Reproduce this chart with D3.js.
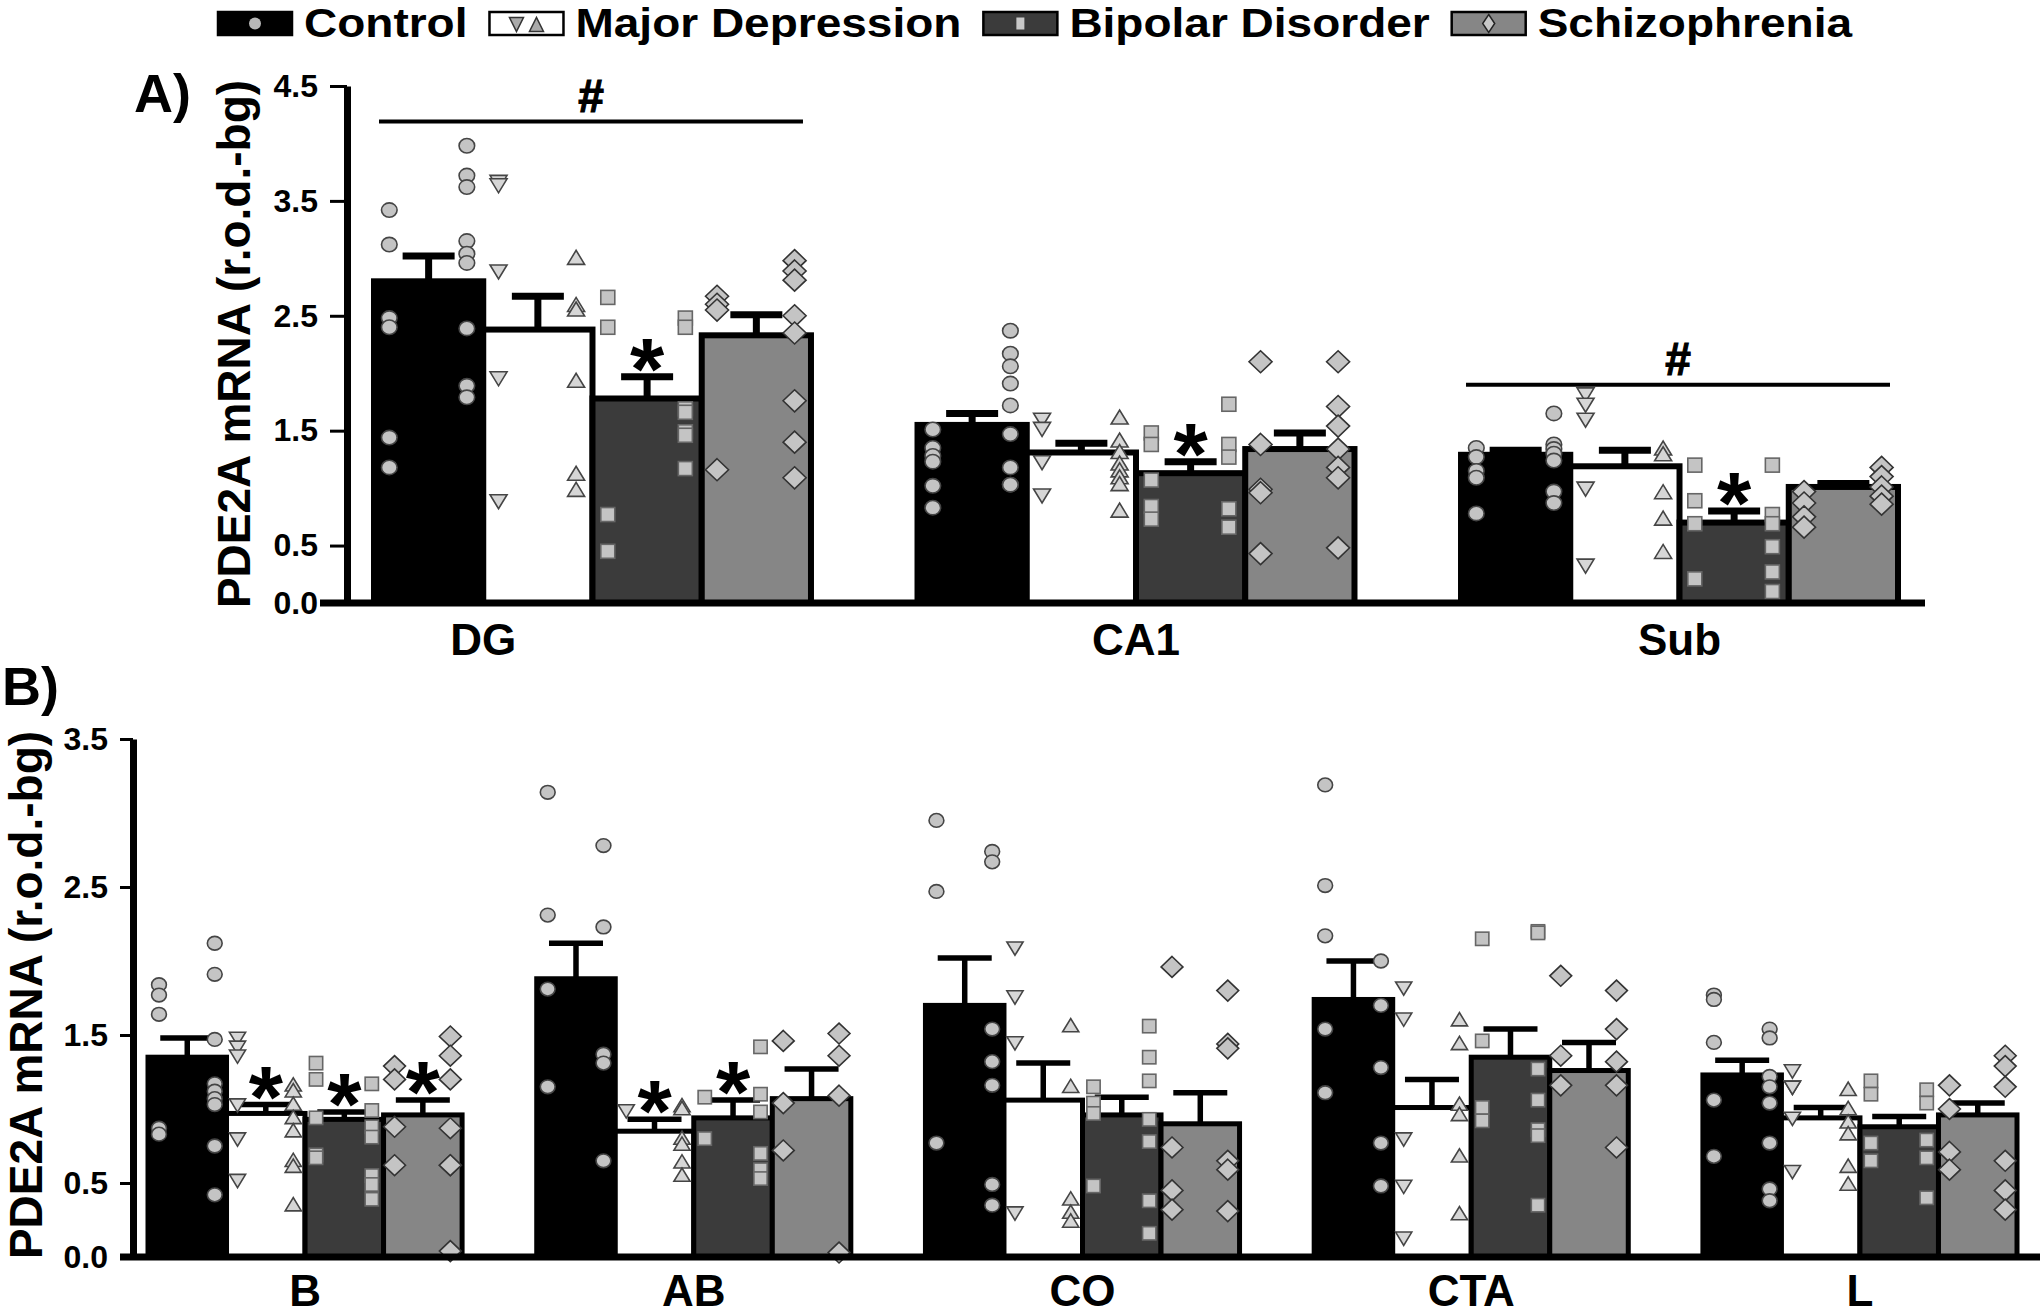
<!DOCTYPE html>
<html><head><meta charset="utf-8">
<script src="https://cdn.jsdelivr.net/npm/d3@7"></script>
<style>
html,body{margin:0;padding:0;background:#fff;}
svg{display:block;}
text{font-family:"Liberation Sans",Arial,Helvetica,sans-serif;font-weight:bold;fill:#000;}
</style></head><body>
<svg id="chart" width="2040" height="1314"></svg>
<script>
// ---------- data ----------
const diagnoses = ["Control", "Major Depression", "Bipolar Disorder", "Schizophrenia"];
const regionsA = ["DG", "CA1", "Sub"];
const regionsB = ["B", "AB", "CO", "CTA", "L"];
const ticksA = [0, 0.5, 1.5, 2.5, 3.5, 4.5];
const ticksB = [0, 0.5, 1.5, 2.5, 3.5];
const yTitle = "PDE2A mRNA (r.o.d.-bg)";

// means (rows = regions, cols = diagnoses)
const meansA = [
  [2.80, 2.38, 1.78, 2.33],
  [1.55, 1.31, 1.13, 1.34],
  [1.29, 1.19, 0.70, 1.01]
];
const semA = [
  [0.22, 0.29, 0.19, 0.18],
  [0.10, 0.08, 0.10, 0.14],
  [0.04, 0.14, 0.10, 0.03]
];
const meansB = [
  [1.35, 0.97, 0.93, 0.96],
  [1.88, 0.85, 0.94, 1.07],
  [1.70, 1.06, 0.96, 0.90],
  [1.74, 1.01, 1.35, 1.26],
  [1.23, 0.94, 0.88, 0.96]
];
const semB = [
  [0.13, 0.06, 0.05, 0.10],
  [0.24, 0.08, 0.12, 0.20],
  [0.32, 0.25, 0.12, 0.21],
  [0.26, 0.19, 0.19, 0.19],
  [0.10, 0.07, 0.07, 0.08]
];

// individual values, left column and right column of each bar
const ptsLeftA = [
  [[3.42, 3.12, 2.48, 2.40, 1.44, 1.18], [3.67, 3.64, 2.89, 1.96, 0.89], [2.66, 2.40, 0.77, 0.45], [2.67, 2.60, 2.55, 1.16]],
  [[1.51, 1.35, 1.28, 1.23, 1.02, 0.83], [1.60, 1.52, 1.23, 0.94], [1.48, 1.38, 1.07, 0.84, 0.73], [2.10, 1.38, 0.99, 0.96, 0.43]],
  [[1.35, 1.27, 1.15, 1.09, 0.78], [1.82, 1.73, 1.60, 1.00, 0.33], [1.20, 0.89, 0.69, 0.21], [0.97, 0.87, 0.75, 0.66]]
];
const ptsRightA = [
  [[3.98, 3.72, 3.62, 3.15, 3.04, 2.96, 2.39, 1.89, 1.79], [3.00, 2.59, 2.55, 1.93, 1.12, 0.98], [2.48, 2.40, 1.69, 1.66, 1.49, 1.46, 1.17], [2.98, 2.89, 2.81, 2.50, 2.35, 1.76, 1.40, 1.09]],
  [[2.37, 2.17, 2.06, 1.91, 1.72, 1.47, 1.18, 1.03, 1.03], [1.61, 1.41, 1.31, 1.21, 1.15, 1.09, 1.03, 0.80], [1.73, 1.38, 1.27, 0.82, 0.66], [2.10, 1.71, 1.54, 1.34, 1.18, 1.09, 0.48]],
  [[1.65, 1.38, 1.34, 1.30, 1.24, 0.97, 0.87], [1.34, 1.29, 0.96, 0.73, 0.44], [1.20, 0.77, 0.69, 0.49, 0.27, 0.10], [1.18, 1.10, 1.01, 0.93, 0.86]]
];
const ptsLeftB = [
  [[1.84, 1.77, 1.64, 0.87, 0.83], [1.48, 1.42, 1.36, 1.03, 0.80, 0.52], [1.31, 1.20, 0.94, 0.69, 0.67], [1.29, 1.20, 0.88, 0.62]],
  [[3.14, 2.31, 1.81, 1.15], [0.99], [1.08, 0.80], [1.46, 1.04, 0.72]],
  [[2.95, 2.47, 0.77], [2.09, 1.76, 1.45, 0.30], [1.15, 1.04, 0.97, 0.48], [1.96, 0.74, 0.45, 0.32]],
  [[3.19, 2.51, 2.17, 1.54, 1.11], [1.82, 1.61, 0.80, 0.48, 0.13], [2.15, 1.46, 1.01, 0.92], [1.90, 1.36, 1.16]],
  [[1.77, 1.74, 1.45, 1.06, 0.68], [1.26, 1.15, 1.15, 0.94, 0.58], [1.19, 1.10, 0.77, 0.65], [1.16, 1.00, 0.71, 0.59]]
];
const ptsRightB = [
  [[2.12, 1.91, 1.47, 1.17, 1.12, 1.07, 1.03, 0.75, 0.42], [1.16, 1.12, 1.03, 0.94, 0.85, 0.65, 0.61, 0.35], [1.17, 0.99, 0.88, 0.81, 0.55, 0.49, 0.39], [1.49, 1.36, 1.20, 0.87, 0.62, 0.62, 0.04]],
  [[2.78, 2.23, 1.37, 1.31, 0.65], [1.02, 1.00, 0.80, 0.76, 0.64, 0.55], [1.42, 1.10, 0.98, 0.70, 0.59, 0.53], [1.51, 1.36, 1.09, 0.03]],
  [[2.74, 2.67, 1.54, 1.32, 1.16, 0.49, 0.35], [1.56, 1.15, 0.39, 0.30, 0.24], [1.56, 1.35, 1.19, 0.93, 0.78, 0.38, 0.16], [1.80, 1.44, 1.41, 0.65, 0.59, 0.31]],
  [[2.00, 1.70, 1.28, 0.77, 0.48], [1.60, 1.44, 1.03, 0.96, 0.68, 0.29], [2.20, 2.19, 1.27, 1.06, 0.86, 0.82, 0.35], [1.80, 1.54, 1.32, 1.16, 0.74]],
  [[1.54, 1.48, 1.22, 1.15, 1.04, 0.77, 0.46, 0.38], [1.13, 1.00, 0.91, 0.83, 0.61, 0.49], [1.13, 1.04, 0.79, 0.67, 0.40], [1.36, 1.29, 1.15, 0.65, 0.45, 0.32]]
];

// significance marks
const starsA = [[0, 0, 1, 0], [0, 0, 1, 0], [0, 0, 1, 0]];
const starsB = [[0, 1, 1, 1], [0, 1, 1, 0], [0, 0, 0, 0], [0, 0, 0, 0], [0, 0, 0, 0]];
const hashA = [4.19, null, 1.90];

// ---------- style ----------
const barFill = ["#000000", "#ffffff", "#3b3b3b", "#868686"];
const ptFill = "#c4c4c4", ptStroke = "#454545";

const svg = d3.select("#chart");

function stretched(g, x, y, str, size, sx, anchor) {
  return g.append("text")
    .attr("transform", `translate(${x},${y}) scale(${sx},1)`)
    .attr("font-size", size).attr("text-anchor", anchor || "start").text(str);
}

function marker(g, kind, cx, cy, s) {
  if (kind === 0) {
    g.append("ellipse").attr("cx", cx).attr("cy", cy).attr("rx", 7.8 * s).attr("ry", 7.2 * s)
      .attr("fill", ptFill).attr("stroke", ptStroke).attr("stroke-width", 1.6);
  } else if (kind === 1) { // down triangle
    g.append("path").attr("d", `M${cx - 8.5 * s},${cy - 6 * s}L${cx + 8.5 * s},${cy - 6 * s}L${cx},${cy + 8 * s}Z`)
      .attr("fill", "#d6d6d6").attr("stroke", ptStroke).attr("stroke-width", 1.6);
  } else if (kind === 2) { // up triangle
    g.append("path").attr("d", `M${cx - 8.5 * s},${cy + 6 * s}L${cx + 8.5 * s},${cy + 6 * s}L${cx},${cy - 8 * s}Z`)
      .attr("fill", "#d6d6d6").attr("stroke", ptStroke).attr("stroke-width", 1.6);
  } else if (kind === 3) { // square
    g.append("rect").attr("x", cx - 7 * s).attr("y", cy - 7 * s).attr("width", 14 * s).attr("height", 14 * s)
      .attr("fill", ptFill).attr("stroke", "#666").attr("stroke-width", 1.6);
  } else { // diamond
    g.append("path").attr("d", `M${cx},${cy - 11 * s}L${cx + 11.5 * s},${cy}L${cx},${cy + 11 * s}L${cx - 11.5 * s},${cy}Z`)
      .attr("fill", ptFill).attr("stroke", "#333").attr("stroke-width", 1.6);
  }
}

function drawPanel(p) {
  const g = svg.append("g");
  const inner = d3.scaleBand(diagnoses, [0, p.x.bandwidth()]);
  const bw = inner.bandwidth();

  // bars
  p.regions.forEach((r, ri) => {
    diagnoses.forEach((d, di) => {
      const v = p.means[ri][di];
      g.append("rect")
        .attr("x", p.x(r) + inner(d)).attr("y", p.y(v))
        .attr("width", bw).attr("height", p.y(0) - p.y(v))
        .attr("fill", barFill[di]).attr("stroke", "#000").attr("stroke-width", p.barStroke);
    });
  });
  // error bars
  p.regions.forEach((r, ri) => {
    diagnoses.forEach((d, di) => {
      const v = p.means[ri][di], top = v + p.sem[ri][di];
      const cx = p.x(r) + inner(d) + bw / 2;
      g.append("line").attr("x1", cx).attr("x2", cx).attr("y1", p.y(v)).attr("y2", p.y(top))
        .attr("stroke", "#000").attr("stroke-width", p.errStroke);
      g.append("line").attr("x1", cx - p.capW / 2).attr("x2", cx + p.capW / 2).attr("y1", p.y(top)).attr("y2", p.y(top))
        .attr("stroke", "#000").attr("stroke-width", p.errStroke);
    });
  });
  // points
  p.regions.forEach((r, ri) => {
    diagnoses.forEach((d, di) => {
      const x0 = p.x(r) + inner(d);
      const kindL = [0, 1, 3, 4][di], kindR = [0, 2, 3, 4][di];
      p.left[ri][di].forEach(v => marker(g, kindL, x0 + 0.14 * bw, p.y(v), p.ms));
      p.right[ri][di].forEach(v => marker(g, kindR, x0 + 0.85 * bw, p.y(v), p.ms));
    });
  });
  // stars
  p.regions.forEach((r, ri) => {
    diagnoses.forEach((d, di) => {
      if (!p.stars[ri][di]) return;
      const cx = p.x(r) + inner(d) + bw / 2;
      const cy = p.y(p.means[ri][di] + p.sem[ri][di]) - 27;
      g.append("text").attr("x", cx).attr("y", cy + 49).attr("font-size", 88)
        .attr("text-anchor", "middle").text("*");
    });
  });
  // hash lines
  if (p.hash) p.regions.forEach((r, ri) => {
    const h = p.hash[ri];
    if (h == null) return;
    const a = p.x(r) + 5, b = p.x(r) + p.x.bandwidth() - 8;
    g.append("line").attr("x1", a).attr("x2", b).attr("y1", p.y(h)).attr("y2", p.y(h))
      .attr("stroke", "#000").attr("stroke-width", 4);
    g.append("text").attr("x", (a + b) / 2).attr("y", p.y(h) - 10).attr("font-size", 46)
      .attr("stroke", "#000").attr("stroke-width", 1.2)
      .attr("text-anchor", "middle").text("#");
  });

  // axes
  g.append("line").attr("x1", p.xAxisFrom).attr("x2", p.xAxisTo).attr("y1", p.y(0)).attr("y2", p.y(0))
    .attr("stroke", "#000").attr("stroke-width", 7);
  const ax = g.append("g").attr("transform", `translate(${p.axisX},0)`)
    .call(d3.axisLeft(p.y).tickValues(p.ticks).tickFormat(d3.format(".1f")).tickSize(p.tickLen).tickSizeOuter(0).tickPadding(p.tickPad));
  ax.select(".domain").attr("stroke", "#000").attr("stroke-width", 7);
  ax.selectAll(".tick line").attr("stroke", "#000").attr("stroke-width", 3);
  ax.selectAll(".tick text").attr("font-size", 32).attr("font-family", null).attr("fill", "#000");

  // category labels
  p.regions.forEach((r, ri) => {
    const cx = p.labelX ? p.labelX(r, inner) : p.x(r) + p.x.bandwidth() / 2;
    g.append("text").attr("x", cx).attr("y", p.labelY).attr("font-size", 44)
      .attr("text-anchor", "middle").text(r);
  });

  // y title
  g.append("text").attr("transform", `translate(${p.titleX},${p.titleY}) rotate(-90)`)
    .attr("font-size", 46).attr("text-anchor", "middle").text(yTitle);
  // panel letter
  g.append("text").attr("x", p.letterX).attr("y", p.letterY).attr("font-size", 54).text(p.letter);
}

// Panel A
const xA = d3.scaleBand(regionsA, [374, 1898]).paddingInner(0.196);
drawPanel({
  regions: regionsA, means: meansA, sem: semA, left: ptsLeftA, right: ptsRightA,
  stars: starsA, hash: hashA,
  x: xA, y: d3.scaleLinear([0, 4.5], [603, 86]), ticks: ticksA,
  barStroke: 6, errStroke: 7, capW: 52, ms: 1.0,
  axisX: 347, tickLen: 17, tickPad: 12, xAxisFrom: 320, xAxisTo: 1925,
  labelY: 655,
  labelX: (r, inner) => r === "DG" ? xA(r) + inner("Major Depression") : xA(r) + xA.bandwidth() / 2,
  titleX: 250, titleY: 344, letter: "A)", letterX: 134, letterY: 112
});

// Panel B
const xB = d3.scaleBand(regionsB, [148, 2017]).paddingInner(0.192);
drawPanel({
  regions: regionsB, means: meansB, sem: semB, left: ptsLeftB, right: ptsRightB,
  stars: starsB, hash: null,
  x: xB, y: d3.scaleLinear([0, 3.5], [1257, 739]), ticks: ticksB,
  barStroke: 5, errStroke: 5.5, capW: 54, ms: 0.95,
  axisX: 133, tickLen: 13, tickPad: 12, xAxisFrom: 120, xAxisTo: 2040,
  labelY: 1306,
  titleX: 42, titleY: 995, letter: "B)", letterX: 2, letterY: 705
});

// Legend
const lg = svg.append("g");
let lx = 218;
diagnoses.forEach((d, di) => {
  const bx = lx, by = 12, bwid = 74, bh = 23, cx = bx + bwid / 2, cy = by + bh / 2;
  lg.append("rect").attr("x", bx).attr("y", by).attr("width", bwid).attr("height", bh)
    .attr("fill", barFill[di]).attr("stroke", "#000").attr("stroke-width", 2.5);
  if (di === 0) {
    lg.append("circle").attr("cx", cx).attr("cy", cy).attr("r", 6).attr("fill", "#b8b8b8");
  } else if (di === 1) {
    lg.append("path").attr("d", `M${cx - 17},${cy - 6}L${cx - 3},${cy - 6}L${cx - 10},${cy + 8}Z`)
      .attr("fill", "#aaa").attr("stroke", "#333").attr("stroke-width", 1.5);
    lg.append("path").attr("d", `M${cx + 3},${cy + 8}L${cx + 17},${cy + 8}L${cx + 10},${cy - 6}Z`)
      .attr("fill", "#aaa").attr("stroke", "#333").attr("stroke-width", 1.5);
  } else if (di === 2) {
    lg.append("rect").attr("x", cx - 4).attr("y", cy - 6).attr("width", 8).attr("height", 12).attr("fill", "#c8c8c8");
  } else {
    lg.append("path").attr("d", `M${cx},${cy - 9}L${cx + 6},${cy}L${cx},${cy + 9}L${cx - 6},${cy}Z`)
      .attr("fill", "#c8c8c8").attr("stroke", "#222").attr("stroke-width", 1.5);
  }
  const t = stretched(lg, bx + bwid + 12, 37, d, 40, 1.15, "start");
  const w = t.node().getComputedTextLength() * 1.15;
  lx = bx + bwid + 12 + w + 22;
});
</script>
</body></html>
